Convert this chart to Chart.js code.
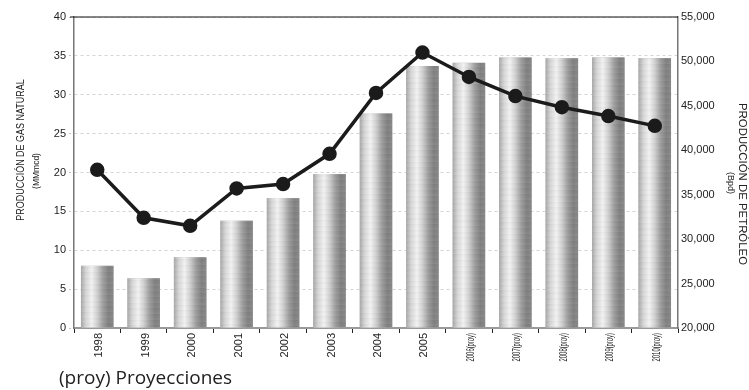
<!DOCTYPE html>
<html>
<head>
<meta charset="utf-8">
<script src="https://cdn.jsdelivr.net/npm/chart.js@4/dist/chart.umd.min.js"></script>
<style>
  html, body { margin: 0; padding: 0; background: #fff; }
  canvas { display: block; }
</style>
</head>
<body>
<canvas id="prodChart" width="749" height="390"></canvas>
<script>
// Producción anual: gas natural (barras) y petróleo (línea)
const years = ['1998', '1999', '2000', '2001', '2002', '2003', '2004', '2005',
    '2006(proy)', '2007(proy)', '2008(proy)', '2009(proy)', '2010(proy)'];
const gasValues = [8.0, 6.4, 9.1, 13.8, 16.7, 19.8, 27.6, 33.7, 34.1, 34.8, 34.7, 34.8, 34.7];
const oilValues = [37800, 32400, 31500, 35700, 36200, 39600, 46450, 51000, 48250, 46100, 44850, 43850, 42750];

const gasTicks = { min: 0, max: 40, step: 5 };
const oilTicks = { min: 20000, max: 55000, step: 5000 };

const BAR_FRACTION = 0.7;
const SANS = "'Liberation Sans', Arial, sans-serif";

// Metallic cylinder look: gradient across each bar plus faint horizontal streaks
const brushedPlugin = {
    id: 'brushed',
    afterDatasetDraw(chart, args) {
        if (args.index !== 0) return;
        const ctx = chart.ctx;
        args.meta.data.forEach((el, i) => {
            const left = el.x - el.width / 2;
            const top = Math.min(el.y, el.base);
            const h = Math.abs(el.base - el.y);
            if (!isFinite(left) || !isFinite(h)) return;
            const g = ctx.createLinearGradient(left, 0, left + el.width, 0);
            g.addColorStop(0, '#a8a8a8');
            g.addColorStop(0.15, '#d6d6d6');
            g.addColorStop(0.33, '#f2f2f2');
            g.addColorStop(0.5, '#d0d0d0');
            g.addColorStop(0.68, '#9e9e9e');
            g.addColorStop(0.85, '#818181');
            g.addColorStop(1, '#898989');
            ctx.save();
            ctx.fillStyle = g;
            ctx.fillRect(left, top, el.width, h);
            for (let y = Math.round(top); y < top + h; y++) {
                const k = ((y * 37 + i * 11) % 17) / 17 - 0.5;
                ctx.fillStyle = k > 0 ? `rgba(255,255,255,${k * 0.1})` : `rgba(0,0,0,${-k * 0.05})`;
                ctx.fillRect(left, y, el.width, 1);
            }
            ctx.restore();
        });
    }
};

// Axis titles, top frame line, category labels and footnote
const decorPlugin = {
    id: 'decor',
    afterDraw(chart) {
        const ctx = chart.ctx;
        const area = chart.chartArea;
        const xs = chart.scales.x;

        ctx.save();
        ctx.strokeStyle = '#111';
        ctx.lineWidth = 1.2;
        ctx.beginPath();
        ctx.moveTo(area.left - 4, area.top);
        ctx.lineTo(area.right, area.top);
        ctx.stroke();
        ctx.restore();

        ctx.fillStyle = '#222';

        // left title
        ctx.save();
        ctx.translate(21, 150);
        ctx.rotate(-Math.PI / 2);
        ctx.scale(0.76, 1);
        ctx.font = `11.8px ${SANS}`;
        ctx.textAlign = 'center';
        ctx.textBaseline = 'middle';
        ctx.fillText('PRODUCCIÓN DE GAS NATURAL', 0, 0);
        ctx.restore();

        ctx.save();
        ctx.translate(37, 171);
        ctx.rotate(-Math.PI / 2);
        ctx.font = `8.5px ${SANS}`;
        ctx.textAlign = 'center';
        ctx.textBaseline = 'middle';
        ctx.fillText('(MMmcd)', 0, 0);
        ctx.restore();

        // right title
        ctx.save();
        ctx.translate(742, 184);
        ctx.rotate(Math.PI / 2);
        ctx.font = `11.4px ${SANS}`;
        ctx.textAlign = 'center';
        ctx.textBaseline = 'middle';
        ctx.fillText('PRODUCCIÓN DE PETRÓLEO', 0, 0);
        ctx.restore();

        ctx.save();
        ctx.translate(730, 183);
        ctx.rotate(Math.PI / 2);
        ctx.font = `9px ${SANS}`;
        ctx.textAlign = 'center';
        ctx.textBaseline = 'middle';
        ctx.fillText('(Bpd)', 0, 0);
        ctx.restore();

        // category labels, projected years set narrow
        years.forEach((label, i) => {
            const x = xs.getPixelForValue(i) + 2;
            const proy = label.indexOf('proy') !== -1;
            ctx.save();
            ctx.translate(x, area.bottom + 5);
            ctx.rotate(-Math.PI / 2);
            if (proy) ctx.scale(0.56, 1);
            ctx.font = proy ? `10.5px ${SANS}` : `11px ${SANS}`;
            ctx.textAlign = 'right';
            ctx.textBaseline = 'middle';
            ctx.fillText(label, 0, 0);
            ctx.restore();
        });

        ctx.save();
        ctx.font = "19px 'Open Sans', sans-serif";
        ctx.textAlign = 'left';
        ctx.textBaseline = 'middle';
        ctx.fillText('(proy) Proyecciones', 59, 379);
        ctx.restore();
    }
};

new Chart(document.getElementById('prodChart'), {
    data: {
        labels: years,
        datasets: [
            {
                type: 'bar',
                data: gasValues,
                yAxisID: 'y',
                backgroundColor: '#bdbdbd',
                borderWidth: 0,
                barPercentage: BAR_FRACTION,
                categoryPercentage: 1,
                order: 1
            },
            {
                type: 'line',
                data: oilValues,
                yAxisID: 'y1',
                borderColor: '#1b1b1b',
                borderWidth: 3.5,
                pointRadius: 5.5,
                pointBackgroundColor: '#1b1b1b',
                pointBorderColor: '#1b1b1b',
                tension: 0,
                order: 0
            }
        ]
    },
    options: {
        responsive: false,
        animation: false,
        layout: { padding: { top: 17, left: 0, right: 0, bottom: 0 } },
        plugins: {
            legend: { display: false },
            tooltip: { enabled: false }
        },
        scales: {
            x: {
                offset: true,
                afterFit(scale) { scale.height = 62; },
                grid: {
                    offset: true,
                    drawOnChartArea: false,
                    drawTicks: true,
                    tickLength: 5,
                    tickColor: '#222',
                    tickWidth: 1
                },
                border: { color: '#999', width: 2 },
                ticks: { display: false }
            },
            y: {
                position: 'left',
                min: gasTicks.min,
                max: gasTicks.max,
                afterFit(scale) { scale.width = 74; },
                ticks: {
                    stepSize: gasTicks.step,
                    color: '#222',
                    padding: 3,
                    font: { family: SANS, size: 11 }
                },
                grid: {
                    color: '#d4d4d4',
                    lineWidth: 1,
                    tickLength: 5,
                    tickColor: '#c4c4c4',
                    tickBorderDash: [2, 2]
                },
                border: { color: '#777', width: 1.5, dash: [3, 3] }
            },
            y1: {
                position: 'right',
                min: oilTicks.min,
                max: oilTicks.max,
                afterFit(scale) { scale.width = 71; },
                ticks: {
                    stepSize: oilTicks.step,
                    color: '#222',
                    padding: 3,
                    font: { family: SANS, size: 11 },
                    callback: (v) => v.toLocaleString('en-US')
                },
                grid: { drawOnChartArea: false, drawTicks: false },
                border: { color: '#777', width: 1.5 }
            }
        }
    },
    plugins: [brushedPlugin, decorPlugin]
});
</script>
</body>
</html>
